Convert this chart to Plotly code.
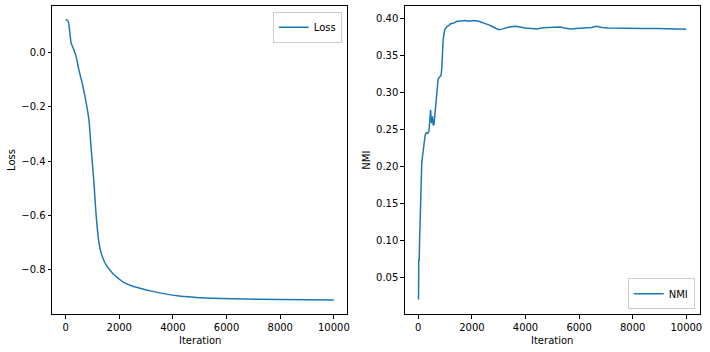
import plotly.graph_objects as go

# Loss curve (iteration, value)
loss_iter = [0, 50, 100, 150, 210, 285, 396, 497, 620, 747, 871, 957, 1057, 1100, 1144,
             1190, 1244, 1300, 1368, 1450, 1555, 1680, 1805, 2000, 2179, 2450, 2803, 3200,
             3700, 4235, 5000, 6200, 8000, 10000]
loss_val = [0.119, 0.119, 0.113, 0.080, 0.033, 0.015, -0.016, -0.065, -0.114, -0.175,
            -0.249, -0.359, -0.478, -0.545, -0.604, -0.655, -0.700, -0.728, -0.751, -0.770,
            -0.788, -0.804, -0.818, -0.834, -0.847, -0.858, -0.868, -0.878, -0.888, -0.896,
            -0.902, -0.906, -0.909, -0.911]

# NMI curve (iteration, value)
nmi_iter = [0, 10, 20, 35, 50, 80, 110, 130, 149, 180, 220, 260, 300, 350, 398, 430, 461,
            480, 498, 530, 560, 584, 620, 647, 680, 706, 740, 770, 810, 855, 880, 892, 910,
            929, 960, 993, 1040, 1078, 1140, 1204, 1300, 1380, 1450, 1600, 1762, 1900, 2071,
            2257, 2379, 2500, 2628, 2800, 3000, 3120, 3249, 3400, 3621, 3800, 3993, 4200,
            4424, 4650, 4859, 5050, 5294, 5450, 5665, 5900, 6223, 6450, 6654, 6850, 7089,
            7400, 7710, 8000, 8454, 8900, 9320, 9600, 9814, 10000]
nmi_val = [0.021, 0.020, 0.075, 0.073, 0.100, 0.150, 0.195, 0.205, 0.211, 0.218, 0.232,
           0.243, 0.246, 0.245, 0.248, 0.262, 0.277, 0.265, 0.259, 0.268, 0.256, 0.257,
           0.270, 0.281, 0.300, 0.309, 0.318, 0.320, 0.322, 0.324, 0.335, 0.349, 0.362,
           0.372, 0.380, 0.3855, 0.388, 0.390, 0.391, 0.3936, 0.394, 0.3955, 0.3968, 0.3972,
           0.3977, 0.3970, 0.398, 0.3968, 0.3954, 0.3945, 0.392, 0.389, 0.3855, 0.3862,
           0.3878, 0.3890, 0.390, 0.3885, 0.3878, 0.3872, 0.3864, 0.3880, 0.3886, 0.3884,
           0.389, 0.3878, 0.3864, 0.3872, 0.3878, 0.3885, 0.390, 0.3885, 0.3878, 0.3875,
           0.3869, 0.3872, 0.3869, 0.3870, 0.3869, 0.3868, 0.3864, 0.3859]

x_ticks = [0, 2000, 4000, 6000, 8000, 10000]
x_tick_text = ["0", "2000", "4000", "6000", "8000", "10000"]
loss_ticks = [-0.8, -0.6, -0.4, -0.2, 0.0]
nmi_ticks = [0.05, 0.10, 0.15, 0.20, 0.25, 0.30, 0.35, 0.40]

BLUE = "#1f77b4"
FONT = "DejaVu Sans"

fig = go.Figure()
fig.add_trace(go.Scatter(x=loss_iter, y=loss_val, mode="lines", name="Loss",
                         line=dict(color=BLUE, width=1.5, shape="spline", smoothing=0.6),
                         xaxis="x", yaxis="y", legend="legend", showlegend=True))
fig.add_trace(go.Scatter(x=nmi_iter, y=nmi_val, mode="lines", name="NMI",
                         line=dict(color=BLUE, width=1.5),
                         xaxis="x2", yaxis="y2", legend="legend2", showlegend=True))

W, H = 710, 352
def px(x):
    return x / W
def py(y):
    return 1 - y / H

axis_common = dict(showline=True, linecolor="black", linewidth=1, mirror=True,
                   ticks="outside", ticklen=3.5, tickwidth=1, tickcolor="black",
                   showgrid=False, zeroline=False,
                   tickfont=dict(family=FONT, size=10, color="black"))

legend_common = dict(bordercolor="#cccccc", borderwidth=1, bgcolor="rgba(255,255,255,0.8)",
                     font=dict(family=FONT, size=10, color="black"), itemwidth=30,
                     visible=True)

fig.update_layout(
    width=W, height=H,
    showlegend=True,
    margin=dict(l=0, r=0, t=0, b=0),
    paper_bgcolor="white", plot_bgcolor="white",
    font=dict(family=FONT, size=10, color="black"),
    xaxis=dict(domain=[px(52.3), px(348.3)], anchor="y", range=[-500, 10500],
               tickvals=x_ticks, ticktext=x_tick_text, **axis_common),
    yaxis=dict(domain=[py(314), py(6)], anchor="x", range=[-0.962, 0.170],
               tickvals=loss_ticks, tickformat=".1f", **axis_common),
    xaxis2=dict(domain=[px(406), px(701.7)], anchor="y2", range=[-500, 10500],
                tickvals=x_ticks, ticktext=x_tick_text, **axis_common),
    yaxis2=dict(domain=[py(314), py(6)], anchor="x2", range=[0.0005, 0.4175],
                tickvals=nmi_ticks, tickformat=".2f", **axis_common),
    legend=dict(x=px(342.7), xanchor="right", y=py(11.7), yanchor="top", **legend_common),
    legend2=dict(x=px(696.7), xanchor="right", y=py(309.3), yanchor="bottom", **legend_common),
    annotations=[
        dict(text="Iteration", x=px(200.3), y=py(340), xref="paper", yref="paper",
             showarrow=False, xanchor="center", yanchor="middle",
             font=dict(family=FONT, size=10, color="black")),
        dict(text="Iteration", x=px(553.9), y=py(340), xref="paper", yref="paper",
             showarrow=False, xanchor="center", yanchor="middle",
             font=dict(family=FONT, size=10, color="black")),
        dict(text="Loss", x=px(11), y=py(160), xref="paper", yref="paper",
             showarrow=False, xanchor="center", yanchor="middle", textangle=-90,
             font=dict(family=FONT, size=10, color="black")),
        dict(text="NMI", x=px(366.7), y=py(160), xref="paper", yref="paper",
             showarrow=False, xanchor="center", yanchor="middle", textangle=-90,
             font=dict(family=FONT, size=10, color="black")),
    ],
)

fig.write_html("out.html")
